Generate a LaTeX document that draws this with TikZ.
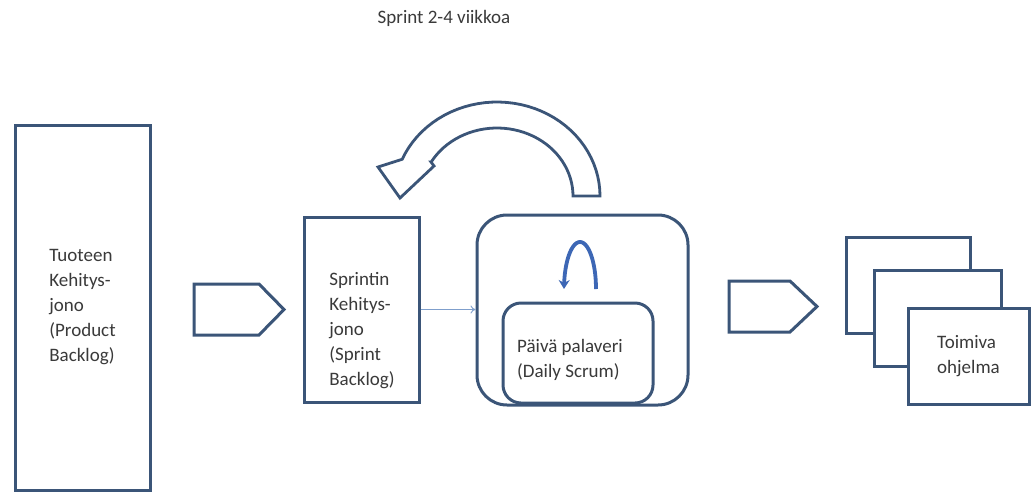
\documentclass[tikz,border=0pt]{standalone}
\usepackage{fontspec}
\setmainfont{Carlito}
\usetikzlibrary{arrows.meta}
\definecolor{edge}{HTML}{3B5578}
\definecolor{txt}{HTML}{3A3A3A}
\definecolor{loopblue}{HTML}{3D67B5}
\definecolor{thinblue}{HTML}{7F9FCC}
\begin{document}
\begin{tikzpicture}[x=1pt,y=-1pt,
  box/.style={draw=edge, line width=3pt, fill=white, line join=miter},
  lbl/.style={text=txt, font=\fontsize{19}{25}\selectfont, align=left, inner sep=0pt}]
\useasboundingbox (0,0) rectangle (1032,493);
\fill[white] (0,0) rectangle (1032,493);

% title
\node[lbl] (title) at (444,18) {Sprint 2-4 viikkoa};

% product backlog
\node[box, minimum width=135pt, minimum height=365pt] (pb) at (82.5,307.5) {};
\node[lbl] (pbt) at (pb.center) {Tuoteen\\Kehitys-\\jono\\(Product\\Backlog)};

% first block arrow
\draw[box] (194,284) -- (259,284) -- (284,309.5) -- (259,335) -- (194,335) -- cycle;

% sprint backlog
\node[box, minimum width=115pt, minimum height=185pt] (sb) at (361.5,309.5) {};
\node[lbl] (sbt) at (362,331) {Sprintin\\Kehitys-\\jono\\(Sprint\\Backlog)};

% sprint container
\node[box, rounded corners=30pt, minimum width=211pt, minimum height=190pt] (sc) at (582.5,310) {};
\node[box, rounded corners=18pt, minimum width=150pt, minimum height=100pt] (ds) at (578,353) {};
\node[lbl] (dst) at (570,360) {Päivä palaveri\\(Daily Scrum)};

% thin arrow
\draw[draw=thinblue, line width=0.9pt, -{To[length=5pt,width=8pt]}] (sb.east) -- (sb.east -| sc.west);

% big curved arrow
\draw[box, line width=2.8pt]
  (600,196) -- plot[domain=0:157,samples=40] ({497+103*cos(\x)},{196-94*sin(\x)})
  -- (378,167) -- (400,198) -- (434,166) -- (431,162)
  -- plot[domain=150:0,samples=40] ({497+76*cos(\x)},{196-68*sin(\x)})
  -- cycle;

% small daily loop arrow
\draw[draw=loopblue, line width=3.8pt, -{Stealth[length=9pt,width=11pt]}]
  plot[domain=0:180,samples=40] ({580+16*cos(\x)},{289-47*sin(\x)});

% second block arrow
\draw[box] (729,281) -- (790,281) -- (817,306.5) -- (790,332) -- (729,332) -- cycle;

% working software stack
\node[box, minimum width=124pt, minimum height=96pt] (w1) at (908,285) {};
\node[box, minimum width=127pt, minimum height=96pt] (w2) at (937.5,318) {};
\node[box, minimum width=121pt, minimum height=96pt] (w3) at (968.5,356) {};
\node[lbl] (w3t) at (w3.center) {Toimiva\\ohjelma};
\end{tikzpicture}
\end{document}
